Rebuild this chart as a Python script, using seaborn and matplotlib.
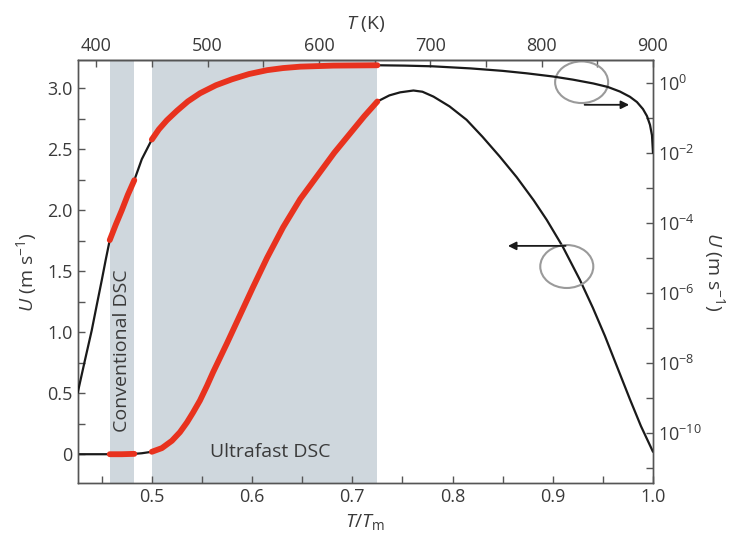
import numpy as np
import pandas as pd
import seaborn as sns
import matplotlib.pyplot as plt
from matplotlib.patches import Ellipse
from matplotlib.ticker import NullFormatter

# bell curve, U in m/s (left axis)
t_lin = [0.426, 0.44, 0.458, 0.47, 0.4825, 0.49, 0.5, 0.51, 0.52, 0.528, 0.535, 0.541, 0.548,
         0.555, 0.561, 0.568, 0.575, 0.588, 0.601, 0.615, 0.631, 0.648, 0.665, 0.682, 0.698,
         0.712, 0.725, 0.737, 0.7477, 0.761, 0.77, 0.781, 0.797, 0.814, 0.83, 0.847, 0.864,
         0.881, 0.894, 0.910, 0.927, 0.94, 0.952, 0.964, 0.977, 0.988, 1.0]
u_lin = [0.0, 0.0, 0.0, 0.0, 0.003, 0.008, 0.02, 0.05, 0.11, 0.18, 0.26, 0.34, 0.44,
         0.56, 0.67, 0.79, 0.91, 1.14, 1.37, 1.61, 1.86, 2.09, 2.28, 2.47, 2.63,
         2.77, 2.89, 2.94, 2.965, 2.98, 2.97, 2.93, 2.85, 2.74, 2.60, 2.44, 2.27,
         2.08, 1.92, 1.70, 1.43, 1.20, 0.97, 0.72, 0.45, 0.23, 0.02]

# plateau curve, log10 U (right axis)
t_log = [0.426, 0.433, 0.44, 0.445, 0.45, 0.454, 0.458, 0.464, 0.47, 0.476, 0.4825, 0.49,
         0.5, 0.507, 0.515, 0.525, 0.536, 0.548, 0.564, 0.58, 0.597, 0.615, 0.631, 0.648,
         0.681, 0.725, 0.752, 0.78, 0.818, 0.85, 0.874, 0.9, 0.92, 0.9405, 0.955,
         0.967, 0.977, 0.984, 0.99, 0.994, 0.997, 0.999, 1.0]
logu = [-8.85, -7.95, -7.07, -6.35, -5.64, -5.05, -4.49, -4.05, -3.64, -3.2, -2.78, -2.18,
        -1.62, -1.33, -1.07, -0.80, -0.53, -0.30, -0.07, 0.10, 0.25, 0.36, 0.42, 0.46,
        0.49, 0.50, 0.49, 0.47, 0.41, 0.34, 0.27, 0.18, 0.09, -0.02, -0.12,
        -0.25, -0.40, -0.55, -0.75, -0.95, -1.2, -1.5, -2.0]

regions = [(0.458, 0.4825), (0.5, 0.725)]
region_names = ['Conventional DSC', 'Ultrafast DSC']

lin = pd.DataFrame({'t': t_lin, 'u': u_lin})
lg = pd.DataFrame({'t': t_log, 'u': np.power(10.0, logu)})

sns.set_style('ticks')
plt.rcParams['font.family'] = ['Open Sans', 'DejaVu Sans']
plt.rcParams['mathtext.fontset'] = 'custom'
plt.rcParams['mathtext.rm'] = 'Open Sans'
plt.rcParams['mathtext.it'] = 'Open Sans:italic'

grey = '#3a3a3a'
red = '#e8321e'
shade = '#cfd7dd'

fig = plt.figure(figsize=(7.3, 5.43), dpi=100)
ax = fig.add_axes([0.1064, 0.110, 0.7881, 0.7795])
ax2 = ax.twinx()

for lo, hi in regions:
    ax.axvspan(lo, hi, color=shade, lw=0, zorder=0)

sns.lineplot(data=lin, x='t', y='u', ax=ax, color='#1a1a1a', lw=1.6, estimator=None, zorder=3)
sns.lineplot(data=lg, x='t', y='u', ax=ax2, color='#1a1a1a', lw=1.6, estimator=None, zorder=3)
for lo, hi in regions:
    seg = lin[(lin.t >= lo) & (lin.t <= hi)]
    sns.lineplot(data=seg, x='t', y='u', ax=ax, color=red, lw=4.2, estimator=None, zorder=4)
    seg = lg[(lg.t >= lo) & (lg.t <= hi)]
    sns.lineplot(data=seg, x='t', y='u', ax=ax2, color=red, lw=4.2, estimator=None, zorder=4)

ax.set_xlim(0.426, 1.0)
ax.set_ylim(-0.238, 3.23)
ax2.set_yscale('log')
ax2.set_ylim(10 ** -11.43, 10 ** 0.65)

ax.set_xticks([0.5, 0.6, 0.7, 0.8, 0.9, 1.0])
ax.set_xticklabels(['0.5', '0.6', '0.7', '0.8', '0.9', '1.0'])
ax.set_xticks(np.arange(0.45, 1.0, 0.1), minor=True)
ax.set_yticks([0, 0.5, 1.0, 1.5, 2.0, 2.5, 3.0])
ax.set_yticklabels(['0', '0.5', '1.0', '1.5', '2.0', '2.5', '3.0'])
ax.set_yticks([0.25, 0.75, 1.25, 1.75, 2.25, 2.75], minor=True)
ax2.set_yticks([10.0 ** k for k in range(-10, 1, 2)])
ax2.set_yticks([10.0 ** k for k in range(-11, 1, 2)], minor=True)
ax2.yaxis.set_minor_formatter(NullFormatter())

top = ax.secondary_xaxis('top', functions=(lambda x: x * 900, lambda t: t / 900))
top.set_xticks([400, 500, 600, 700, 800, 900])
top.set_xticks([450, 550, 650, 750, 850], minor=True)

for a in (ax, ax2, top):
    a.tick_params(which='both', direction='in', colors='#555555', labelcolor=grey,
                  labelsize=13, width=1.0)
    a.tick_params(which='major', length=5)
    a.tick_params(which='minor', length=5)
    for s in a.spines.values():
        s.set_color('#555555')
        s.set_linewidth(1.0)

ax.set_xlabel(r'$T/T_{\mathrm{m}}$', fontsize=14, color=grey, labelpad=4)
ax.set_ylabel(r'$U$ (m s$^{-1}$)', fontsize=14, color=grey, labelpad=6)
ax2.set_ylabel(r'$U$ (m s$^{-1}$)', fontsize=14, color=grey, rotation=-90, labelpad=18)
top.set_xlabel(r'$T$ (K)', fontsize=14, color=grey, labelpad=6)

ax.text(0.4705, 0.85, region_names[0], rotation=90, ha='center', va='center',
        fontsize=14, color=grey, zorder=5)
ax.text(0.618, 0.02, region_names[1], ha='center', va='center',
        fontsize=14, color=grey, zorder=5)

ax.add_patch(Ellipse((0.9288, 3.048), 0.0529, 0.341, fill=False, ec='#9a9a9a', lw=1.5, zorder=6))
ax.add_patch(Ellipse((0.914, 1.538), 0.0529, 0.352, fill=False, ec='#9a9a9a', lw=1.5, zorder=6))
ax.annotate('', xy=(0.979, 2.863), xytext=(0.929, 2.863),
            arrowprops=dict(arrowstyle='-|>', color='#1a1a1a', lw=1.3, mutation_scale=12), zorder=7)
ax.annotate('', xy=(0.8525, 1.707), xytext=(0.9156, 1.707),
            arrowprops=dict(arrowstyle='-|>', color='#1a1a1a', lw=1.3, mutation_scale=12), zorder=7)

fig.savefig('out.png', dpi=100)
